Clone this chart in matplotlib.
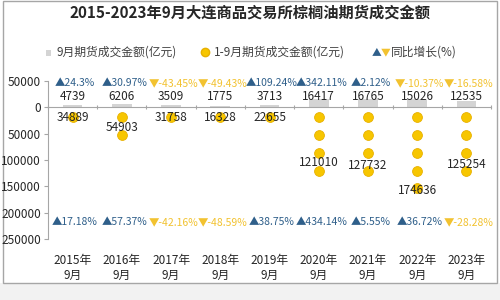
import numpy as np
import matplotlib
matplotlib.use("Agg")
import matplotlib.pyplot as plt
from matplotlib.patches import Rectangle
import matplotlib.transforms as mtrans

plt.rcParams['font.family'] = ['Noto Sans CJK SC', 'DejaVu Sans']

years = ["2015年\n9月", "2016年\n9月", "2017年\n9月", "2018年\n9月", "2019年\n9月",
         "2020年\n9月", "2021年\n9月", "2022年\n9月", "2023年\n9月"]
sep_vals = [4739, 6206, 3509, 1775, 3713, 16417, 16765, 15026, 12535]
cum_vals = [34889, 54903, 31758, 16328, 22655, 121010, 127732, 174636, 125254]
sep_growth = [24.3, 30.97, -43.45, -49.43, 109.24, 342.11, 2.12, -10.37, -16.58]
cum_growth = [17.18, 57.37, -42.16, -48.59, 38.75, 434.14, 5.55, 36.72, -28.28]
yticks = [50000, 0, -50000, -100000, -150000, -200000, -250000]

POS_C = '#2f5f8a'
NEG_C = '#f2c230'
ICON_C = '#f7c600'

fig = plt.figure(figsize=(5, 3), dpi=100)
fig.patch.set_facecolor('white')
# frame and lower band
fig.add_artist(Rectangle((0.0, 0.0), 1, 0.057, transform=fig.transFigure,
                         facecolor='#f2f2f2', edgecolor='none', zorder=0))
fig.add_artist(Rectangle((0.006, 0.057), 0.988, 0.94, transform=fig.transFigure,
                         facecolor='none', edgecolor='#a6a6a6', lw=1.0, zorder=0))

ax = fig.add_axes([0.096, 0.2033, 0.886, 0.5267])
x = np.arange(len(years))
ax.set_xlim(-0.5, len(years) - 0.5)
ax.set_ylim(-250000, 50000)

# gray bars for September values
ax.bar(x, sep_vals, width=0.4, color='#d4d4d4', edgecolor='none', zorder=2)

# pictogram icons for cumulative values
step = 34000
for xi, v in zip(x, cum_vals):
    starts = np.arange(0, v - 10000, step)
    ys = -(starts + 18000)
    ax.scatter(np.full(len(ys), xi), ys, s=50, marker='o', color=ICON_C,
               edgecolor='#e8b000', linewidth=0.6, zorder=3)
    ax.text(xi, min(-v + 17000, -19000), f"{v}", ha='center', va='center',
            fontsize=8.5, color='#262626', zorder=5)

# September values labels
for xi, v in zip(x, sep_vals):
    ax.text(xi, 21000, f"{v}", ha='center', va='center', fontsize=8.5,
            color='#262626', zorder=5)

# growth labels
def glabel(xi, y, g):
    if g >= 0:
        s, c = f"▲{g:g}%", POS_C
    else:
        s, c = f"▼{g:g}%", NEG_C
    ax.text(xi + 0.05, y, s, ha='center', va='center', fontsize=7.5, color=c,
            zorder=5, clip_on=False)

for xi, g in zip(x, sep_growth):
    glabel(xi, 45500, g)
for xi, g in zip(x, cum_growth):
    glabel(xi, -218000, g)

# axes styling
for s in ['top', 'right']:
    ax.spines[s].set_visible(False)
ax.spines['left'].set_color('#a6a6a6')
ax.spines['bottom'].set_position(('data', 0))
ax.spines['bottom'].set_color('#a6a6a6')
ax.set_yticks(yticks)
ax.set_yticklabels([f"{abs(t)}" for t in yticks], fontsize=8.5, color='#262626')
ax.tick_params(axis='y', length=3, color='#a6a6a6', pad=2)
ax.set_xticks(np.arange(-0.5, len(years), 1.0))
ax.set_xticklabels([])
ax.tick_params(axis='x', length=3, color='#a6a6a6', direction='inout')

trans = mtrans.blended_transform_factory(ax.transData, ax.transAxes)
for xi, lab in zip(x, years):
    ax.text(xi, -0.095, lab, transform=trans, ha='center', va='top',
            fontsize=8.5, color='#262626', linespacing=1.15, clip_on=False)

# title
fig.text(0.5, 0.957, "2015-2023年9月大连商品交易所棕榈油期货成交金额",
         ha='center', va='center', fontsize=11, fontweight='bold', color='#262626')

# legend
ly = 0.826
fig.add_artist(Rectangle((0.092, ly - 0.011), 0.010, 0.02, transform=fig.transFigure,
                         facecolor='#d4d4d4', edgecolor='none'))
fig.text(0.113, ly, "9月期货成交金额(亿元)", ha='left', va='center', fontsize=8.5,
         color='#404040')
fig.add_artist(plt.Line2D([0.41], [ly], transform=fig.transFigure, marker='o',
                          markersize=6, color=ICON_C, markeredgecolor='#e8b000'))
fig.text(0.428, ly, "1-9月期货成交金额(亿元)", ha='left', va='center', fontsize=8.5,
         color='#404040')
fig.text(0.744, ly, "▲", ha='left', va='center', fontsize=7, color=POS_C)
fig.text(0.762, ly, "▼", ha='left', va='center', fontsize=7, color=NEG_C)
fig.text(0.782, ly, "同比增长(%)", ha='left', va='center', fontsize=8.5, color='#404040')

fig.savefig("out.png", dpi=100, facecolor='white')
